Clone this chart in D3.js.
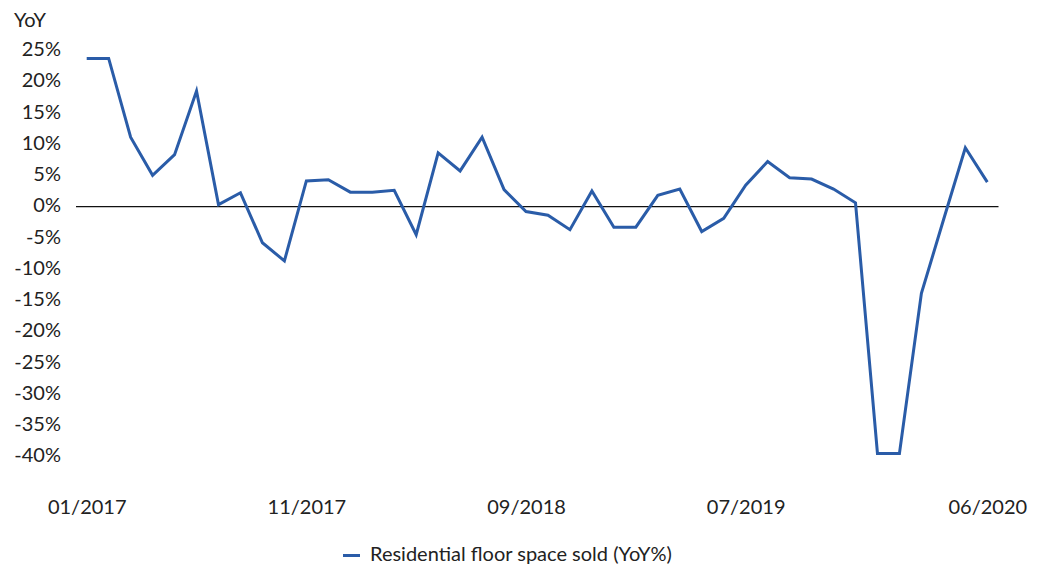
<!DOCTYPE html>
<html>
<head>
<meta charset="utf-8">
<script src="https://cdn.jsdelivr.net/npm/d3@7"></script>
<style>
  html, body { margin: 0; padding: 0; background: #fff; }
  svg { display: block; }
  text { font-family: Lato, "Open Sans", sans-serif; fill: #222; }
</style>
</head>
<body>
<svg id="chart" width="1044" height="565"></svg>
<script>
const months = [
  "01/2017","02/2017","03/2017","04/2017","05/2017","06/2017","07/2017","08/2017","09/2017","10/2017","11/2017","12/2017",
  "01/2018","02/2018","03/2018","04/2018","05/2018","06/2018","07/2018","08/2018","09/2018","10/2018","11/2018","12/2018",
  "01/2019","02/2019","03/2019","04/2019","05/2019","06/2019","07/2019","08/2019","09/2019","10/2019","11/2019","12/2019",
  "01/2020","02/2020","03/2020","04/2020","05/2020","06/2020"
];
const yoyValues = [
  23.7, 23.7, 11.1, 5.0, 8.3, 18.5, 0.3, 2.2, -5.8, -8.7, 4.1, 4.3,
  2.3, 2.3, 2.6, -4.5, 8.6, 5.7, 11.1, 2.7, -0.8, -1.4, -3.7, 2.5,
  -3.3, -3.3, 1.8, 2.8, -4.0, -1.9, 3.4, 7.2, 4.6, 4.4, 2.8, 0.6,
  -39.5, -39.5, -13.9, -2.2, 9.4, 3.9
];
const xTickLabels = ["01/2017","11/2017","09/2018","07/2019","06/2020"];
const yTickValues = [25, 20, 15, 10, 5, 0, -5, -10, -15, -20, -25, -30, -35, -40];
const seriesName = "Residential floor space sold (YoY%)";
const yAxisTitle = "YoY";

const svg = d3.select("#chart");
const lineColor = "#2a5ca8";

const x = d3.scalePoint().domain(months).range([86.7, 987.3]);
const y = d3.scaleLinear().domain([-40, 25]).range([456.5, 50.3]);

// Y axis labels
const yAxis = d3.axisLeft(y).tickValues(yTickValues).tickSize(0).tickPadding(0)
  .tickFormat(d => d + "%");
const gy = svg.append("g").attr("transform", "translate(61,0)").call(yAxis);
gy.select(".domain").remove();
gy.selectAll("text").attr("font-size", 20).attr("font-family", "Lato, 'Open Sans', sans-serif")
  .attr("fill", "#222").attr("dy", "0.27em");

// X axis labels
const xAxis = d3.axisBottom(x).tickValues(xTickLabels).tickSize(0).tickPadding(0);
const gx = svg.append("g").attr("transform", "translate(0,499.3)").call(xAxis);
gx.select(".domain").remove();
gx.selectAll("text").attr("font-size", 20).attr("font-family", "Lato, 'Open Sans', sans-serif")
  .attr("fill", "#222");

// Zero line
svg.append("line")
  .attr("x1", 76).attr("x2", 998.5)
  .attr("y1", y(0)).attr("y2", y(0))
  .attr("stroke", "#111").attr("stroke-width", 1.3);

// Series line
const line = d3.line().x((d, i) => x(months[i])).y(d => y(d));
svg.append("path")
  .datum(yoyValues)
  .attr("d", line)
  .attr("fill", "none")
  .attr("stroke", lineColor)
  .attr("stroke-width", 3)
  .attr("stroke-linejoin", "miter");

// Y axis title
svg.append("text").attr("x", 14).attr("y", 27.3).attr("font-size", 20).text(yAxisTitle);

// Legend
svg.append("line").attr("x1", 343).attr("x2", 360).attr("y1", 555.5).attr("y2", 555.5)
  .attr("stroke", lineColor).attr("stroke-width", 3);
svg.append("text").attr("x", 370).attr("y", 560.5).attr("font-size", 20).text(seriesName);
</script>
</body>
</html>
